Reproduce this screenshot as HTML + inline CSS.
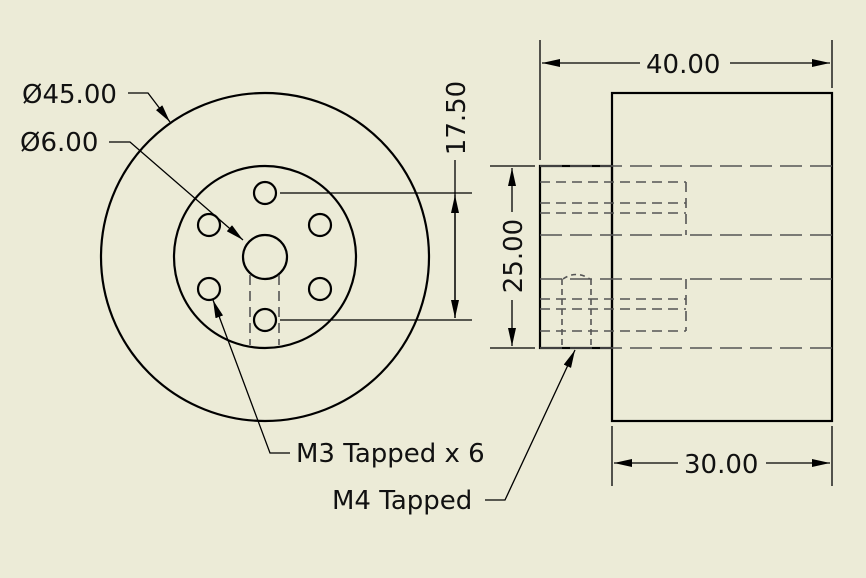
<!DOCTYPE html>
<html><head><meta charset="utf-8"><style>
html,body{margin:0;padding:0;background:#ECEBD7}
svg{display:block}
text{font-family:"DejaVu Sans","Liberation Sans",sans-serif;font-size:26px;fill:#111}
</style></head><body>
<svg width="866" height="578" viewBox="0 0 866 578" xmlns="http://www.w3.org/2000/svg">
<defs>
<marker id="a" viewBox="0 0 18 8" refX="18" refY="4" markerWidth="18" markerHeight="8" markerUnits="userSpaceOnUse" orient="auto"><path d="M0,0 L18,4 L0,8z" fill="#000"/></marker>
</defs>
<g fill="none" stroke="#000" stroke-width="2.2">
<circle cx="265" cy="257" r="164"/>
<circle cx="265" cy="257" r="91"/>
<circle cx="265" cy="257" r="22"/>
<circle cx="265" cy="193" r="11"/>
<circle cx="265" cy="320" r="11"/>
<circle cx="209" cy="225" r="11"/>
<circle cx="209" cy="289" r="11"/>
<circle cx="320" cy="225" r="11"/>
<circle cx="320" cy="289" r="11"/>
<rect x="612" y="93" width="220" height="328"/>
<rect x="540" y="166" width="72" height="182"/>
</g>
<g stroke="#555" stroke-width="1.6" stroke-dasharray="10,6" fill="none">
<line x1="250" y1="275" x2="250" y2="345"/>
<line x1="279" y1="275" x2="279" y2="345"/>
<line x1="540" y1="166" x2="832" y2="166" stroke-dasharray="22,8"/>
<line x1="540" y1="235" x2="832" y2="235" stroke-dasharray="22,8"/>
<line x1="540" y1="279" x2="832" y2="279" stroke-dasharray="22,8"/>
<line x1="540" y1="348" x2="832" y2="348" stroke-dasharray="22,8"/>
<line x1="540" y1="182" x2="686" y2="182"/>
<line x1="540" y1="203" x2="686" y2="203"/>
<line x1="540" y1="213" x2="686" y2="213"/>
<line x1="686" y1="182" x2="686" y2="235"/>
<line x1="540" y1="299" x2="686" y2="299"/>
<line x1="540" y1="309" x2="686" y2="309"/>
<line x1="540" y1="331" x2="686" y2="331"/>
<line x1="686" y1="279" x2="686" y2="331"/>
<line x1="562" y1="299" x2="562" y2="348" stroke-dasharray="6,4"/>
<line x1="591" y1="299" x2="591" y2="348" stroke-dasharray="6,4"/>
<line x1="562" y1="279" x2="562" y2="299" stroke-dasharray="6,4"/>
<line x1="591" y1="279" x2="591" y2="299" stroke-dasharray="6,4"/>
<path d="M563,279 Q576,270 590,279" stroke-dasharray="5,4"/>
</g>
<g stroke="#000" stroke-width="1.3" fill="none">
<line x1="540" y1="40" x2="540" y2="160"/>
<line x1="832" y1="40" x2="832" y2="88"/>
<line x1="640" y1="63" x2="542" y2="63" marker-end="url(#a)"/>
<line x1="730" y1="63" x2="830" y2="63" marker-end="url(#a)"/>
<line x1="612" y1="426" x2="612" y2="486"/>
<line x1="832" y1="426" x2="832" y2="486"/>
<line x1="678" y1="463" x2="614" y2="463" marker-end="url(#a)"/>
<line x1="766" y1="463" x2="830" y2="463" marker-end="url(#a)"/>
<line x1="490" y1="166" x2="535" y2="166"/>
<line x1="490" y1="348" x2="535" y2="348"/>
<line x1="512" y1="212" x2="512" y2="168" marker-end="url(#a)"/>
<line x1="512" y1="300" x2="512" y2="346" marker-end="url(#a)"/>
<line x1="280" y1="193" x2="472" y2="193"/>
<line x1="280" y1="320" x2="472" y2="320"/>
<line x1="455" y1="160" x2="455" y2="195"/>
<line x1="455" y1="195" x2="455" y2="318" marker-end="url(#a)"/>
<line x1="455" y1="318" x2="455" y2="195" marker-end="url(#a)"/>
<polyline points="128,93 148,93 170,122" marker-end="url(#a)"/>
<polyline points="109,142 130,142 243,240" marker-end="url(#a)"/>
<polyline points="290,453 270,453 213,300" marker-end="url(#a)"/>
<polyline points="485,500 505,500 575,350" marker-end="url(#a)"/>
</g>
<text x="22" y="103">Ø45.00</text>
<text x="20" y="151">Ø6.00</text>
<text x="646" y="73">40.00</text>
<text x="684" y="473">30.00</text>
<text x="296" y="462">M3 Tapped x 6</text>
<text x="332" y="509">M4 Tapped</text>
<text transform="translate(522,256) rotate(-90)" text-anchor="middle">25.00</text>
<text transform="translate(465,118) rotate(-90)" text-anchor="middle">17.50</text>
</svg>
</body></html>
